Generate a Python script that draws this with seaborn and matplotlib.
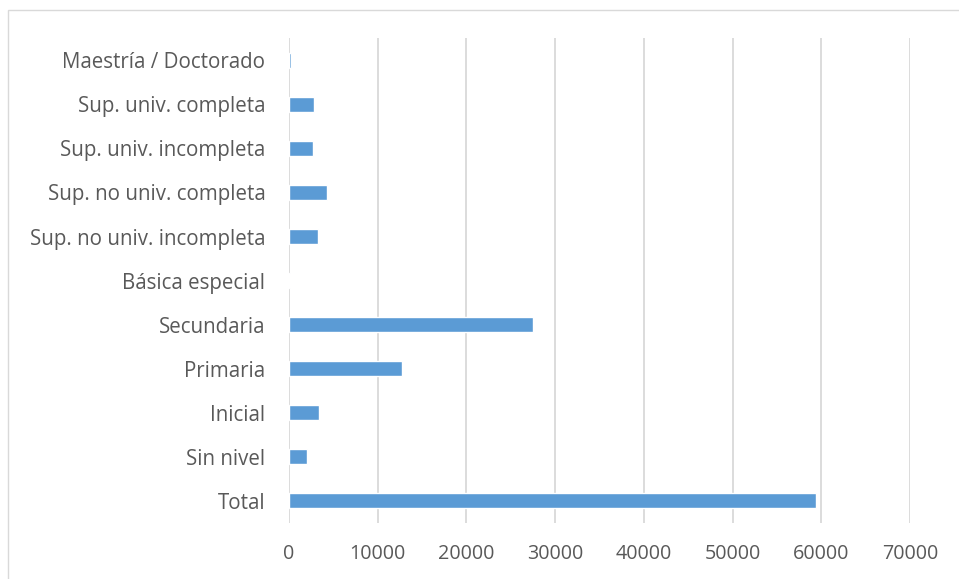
import pandas as pd
import matplotlib
matplotlib.use("Agg")
import matplotlib.pyplot as plt
import seaborn as sns
from matplotlib.patches import Rectangle

niveles = [
    "Maestría / Doctorado",
    "Sup. univ. completa",
    "Sup. univ. incompleta",
    "Sup. no univ. completa",
    "Sup. no univ. incompleta",
    "Básica especial",
    "Secundaria",
    "Primaria",
    "Inicial",
    "Sin nivel",
    "Total",
]
valores = [190, 2860, 2750, 4250, 3310, 100, 27460, 12720, 3350, 2070, 59450]
xticks = [0, 10000, 20000, 30000, 40000, 50000, 60000, 70000]

df = pd.DataFrame({"nivel": niveles, "valor": valores})

sns.set_style("white")
plt.rcParams["font.family"] = ["Open Sans", "DejaVu Sans"]

fig = plt.figure(figsize=(9.59, 5.79), dpi=100)
ax = fig.add_axes([0.3014, 0.0967, 0.6476, 0.8373])

sns.barplot(
    x="valor",
    y="nivel",
    data=df,
    color="#5B9BD5",
    saturation=1,
    width=0.34,
    orient="h",
    ax=ax,
)

ax.set_xlim(0, 70000)
ax.set_xticks(xticks)
ax.set_xticklabels([str(t) for t in xticks])
ax.set_xlabel("")
ax.set_ylabel("")
ax.grid(axis="x", color="#d9d9d9", linewidth=1.3)
ax.set_axisbelow(True)
for s in ax.spines.values():
    s.set_visible(False)
ax.tick_params(axis="both", length=0, labelcolor="#595959")
ax.tick_params(axis="y", pad=17, labelsize=14.8)
ax.tick_params(axis="x", pad=15, labelsize=14.2)

# chart border
fig.patches.append(Rectangle((8 / 959, -0.01), 1.0, 1 - 10 / 579 + 0.01,
                             transform=fig.transFigure, fill=False,
                             edgecolor="#d9d9d9", linewidth=1))

fig.savefig("out.png", dpi=100)
